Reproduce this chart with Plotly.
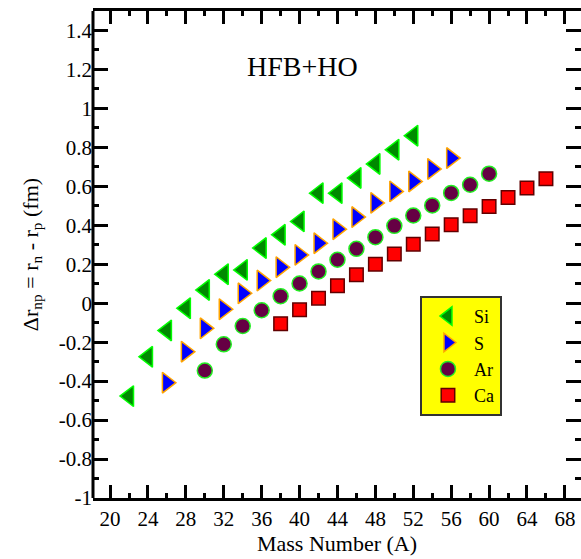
import plotly.graph_objects as go

FONT = "Liberation Serif"

# Data
A_si = [22, 24, 26, 28, 30, 32, 34, 36, 38, 40, 42, 44, 46, 48, 50, 52]
dr_si = [-0.477, -0.275, -0.14, -0.026, 0.068, 0.149, 0.171, 0.283, 0.351, 0.42,
         0.565, 0.565, 0.643, 0.715, 0.788, 0.86]
A_s = [26, 28, 30, 32, 34, 36, 38, 40, 42, 44, 46, 48, 50, 52, 54, 56]
dr_s = [-0.408, -0.249, -0.129, -0.031, 0.051, 0.116, 0.185, 0.248, 0.308, 0.38,
        0.442, 0.515, 0.574, 0.625, 0.689, 0.745]
A_ar = [30, 32, 34, 36, 38, 40, 42, 44, 46, 48, 50, 52, 54, 56, 58, 60]
dr_ar = [-0.346, -0.211, -0.117, -0.036, 0.036, 0.101, 0.163, 0.223, 0.279, 0.339,
         0.397, 0.45, 0.502, 0.566, 0.608, 0.665]
A_ca = [38, 40, 42, 44, 46, 48, 50, 52, 54, 56, 58, 60, 62, 64, 66]
dr_ca = [-0.105, -0.034, 0.026, 0.09, 0.146, 0.2, 0.253, 0.303, 0.355, 0.403,
         0.449, 0.497, 0.543, 0.591, 0.639]

x_ticks = [20, 24, 28, 32, 36, 40, 44, 48, 52, 56, 60, 64, 68]
y_ticks = [-1, -0.8, -0.6, -0.4, -0.2, 0, 0.2, 0.4, 0.6, 0.8, 1, 1.2, 1.4]
y_ticktext = ["-1", "-0.8", "-0.6", "-0.4", "-0.2", "0", "0.2", "0.4", "0.6", "0.8", "1", "1.2", "1.4"]

fig = go.Figure()
fig.add_trace(go.Scatter(x=A_si, y=dr_si, mode="markers", name="Si",
                         marker=dict(symbol="triangle-left", size=18, color="#008a00",
                                     line=dict(color="#00ff00", width=1.5))))
fig.add_trace(go.Scatter(x=A_s, y=dr_s, mode="markers", name="S",
                         marker=dict(symbol="triangle-right", size=18, color="#0000ff",
                                     line=dict(color="#ffa500", width=1.5))))
fig.add_trace(go.Scatter(x=A_ar, y=dr_ar, mode="markers", name="Ar",
                         marker=dict(symbol="circle", size=15, color="#660044",
                                     line=dict(color="#22ee22", width=1.5))))
fig.add_trace(go.Scatter(x=A_ca, y=dr_ca, mode="markers", name="Ca",
                         marker=dict(symbol="square", size=13.5, color="#ff0000",
                                     line=dict(color="#600000", width=1.5))))

fig.add_annotation(x=40.3, y=1.217, xref="x", yref="y", text="HFB+HO", showarrow=False,
                   font=dict(family=FONT, size=28, color="black"))

fig.add_shape(type="line", xref="paper", yref="paper", x0=0, x1=0, y0=0, y1=1,
              line=dict(color="black", width=3))

fig.update_layout(
    width=581, height=559,
    margin=dict(l=93, r=0, t=11, b=61),
    paper_bgcolor="white", plot_bgcolor="white",
    font=dict(family=FONT, color="black"),
    showlegend=True,
    legend=dict(x=0.67, y=0.415, xanchor="left", yanchor="top",
                bgcolor="#ffff00", bordercolor="#333333", borderwidth=2,
                font=dict(family=FONT, size=18, color="black"),
                itemwidth=42, tracegroupgap=0),
    xaxis=dict(range=[18.2, 69.7], tickvals=x_ticks, ticks="inside", ticklen=13, tickwidth=2.5,
               tickcolor="black", showline=True, linewidth=3, linecolor="black", mirror="ticks",
               showgrid=False, zeroline=False,
               minor=dict(dtick=2, tick0=20, ticks="inside", ticklen=5, tickwidth=2.5, tickcolor="black"),
               tickfont=dict(family=FONT, size=21, color="black"),
               title=dict(text="Mass Number (A)", font=dict(family=FONT, size=22, color="black"), standoff=6)),
    yaxis=dict(range=[-1, 1.5], tickvals=y_ticks, ticktext=y_ticktext, ticks="inside", ticklen=15, tickwidth=2.5,
               tickcolor="black", showline=False, mirror="ticks",
               showgrid=False, zeroline=False,
               minor=dict(dtick=0.1, tick0=0, ticks="inside", ticklen=6, tickwidth=2.5, tickcolor="black"),
               tickfont=dict(family=FONT, size=21, color="black"),
               title=dict(text="Δr<sub>np</sub> = r<sub>n</sub> - r<sub>p</sub> (fm)",
                          font=dict(family=FONT, size=22, color="black"), standoff=14)),
)

fig.write_html("out.html")
